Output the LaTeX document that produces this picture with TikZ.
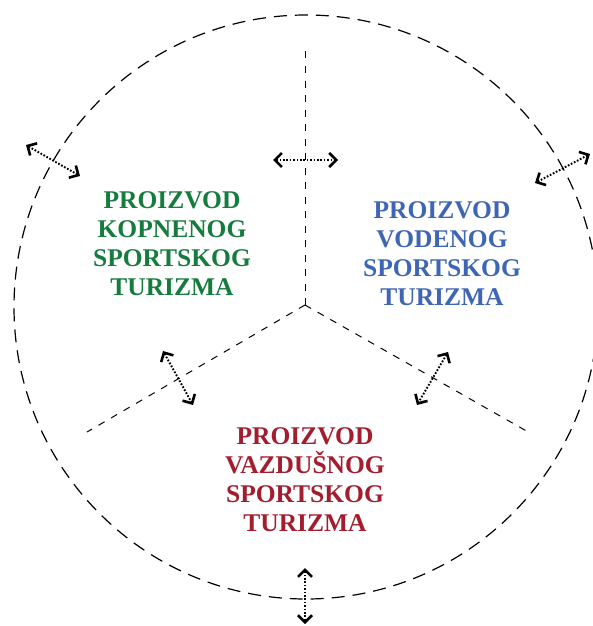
\documentclass[tikz,border=0pt]{standalone}
\usepackage{fontspec}
\setmainfont{Liberation Serif}
\usetikzlibrary{arrows.meta}
\definecolor{landgreen}{RGB}{22,124,62}
\definecolor{waterblue}{RGB}{62,102,180}
\definecolor{airred}{RGB}{162,30,46}
\tikzset{
  ring/.style={line width=1.2pt, dash pattern=on 13pt off 8pt},
  divider/.style={line width=1pt, dash pattern=on 7pt off 7.5pt},
  exchange/.style={line width=1.9pt, dash pattern=on 1.7pt off 1.7pt,
    {Straight Barb[length=7pt,width=14pt,line width=2.6pt]}-{Straight Barb[length=7pt,width=14pt,line width=2.6pt]}},
  product/.style={align=center, font=\bfseries\fontsize{25.5}{29}\selectfont}
}
\begin{document}
\begin{tikzpicture}[x=1pt,y=-1pt]
  \useasboundingbox (0,0) rectangle (592,626);
  % outer boundary
  \coordinate (c) at (306,307);
  \draw[ring] (c) circle[radius=292];
  % three sectors
  \coordinate (hub) at (305,305);
  \coordinate (top) at (305,48);
  \coordinate (ll) at (87,432);
  \coordinate (lr) at (530,433);
  \draw[divider] (hub) -- (top);
  \draw[divider] (hub) -- (ll);
  \draw[divider] (hub) -- (lr);
  % sector labels
  \node[product, text=landgreen] (land) at (172,244) {PROIZVOD\\KOPNENOG\\SPORTSKOG\\TURIZMA};
  \node[product, text=waterblue] (water) at (442,254) {PROIZVOD\\VODENOG\\SPORTSKOG\\TURIZMA};
  \node[product, text=airred] (air) at (305,480) {PROIZVOD\\VAZDUŠNOG\\SPORTSKOG\\TURIZMA};
  % exchange arrows
  \coordinate (a1) at (26,145); \coordinate (b1) at (80,176);
  \coordinate (a2) at (535,183); \coordinate (b2) at (590,154);
  \coordinate (a3) at (273,160); \coordinate (b3) at (338,160);
  \coordinate (a4) at (163,351); \coordinate (b4) at (193,405);
  \coordinate (a5) at (448,352); \coordinate (b5) at (417,405);
  \coordinate (a6) at (305,568); \coordinate (b6) at (305,624);
  \draw[exchange] (a1) -- (b1);
  \draw[exchange] (a2) -- (b2);
  \draw[exchange] (a3) -- (b3);
  \draw[exchange] (a4) -- (b4);
  \draw[exchange] (a5) -- (b5);
  \draw[exchange] (a6) -- (b6);
\end{tikzpicture}
\end{document}
